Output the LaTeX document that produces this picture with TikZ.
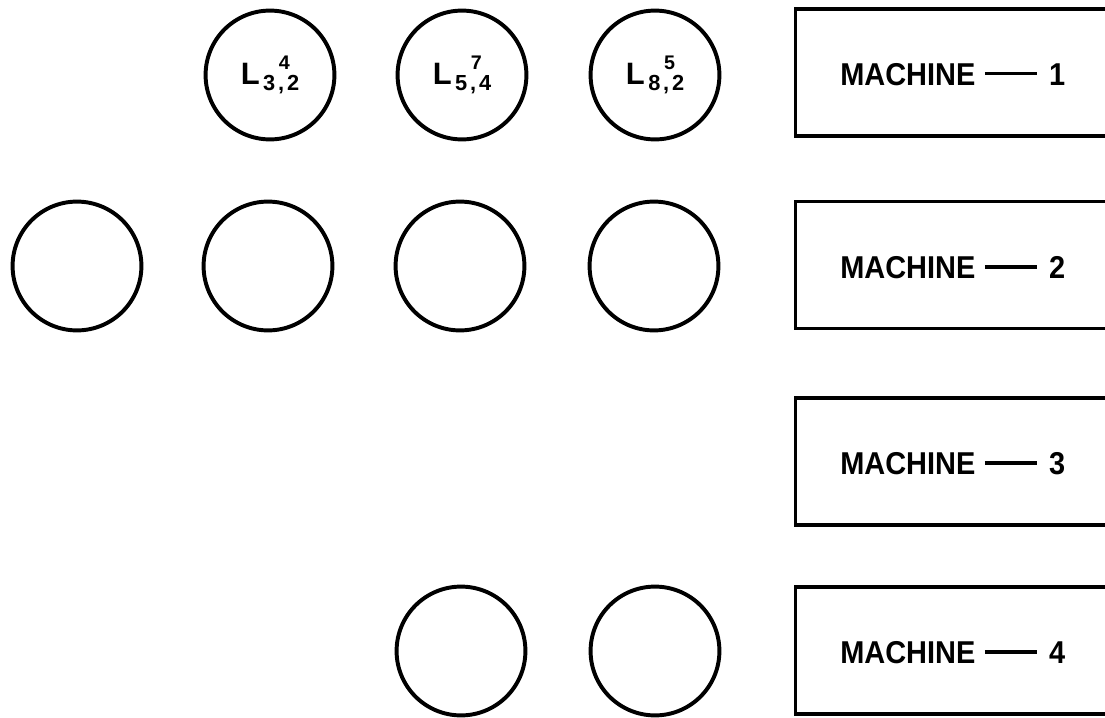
\documentclass[tikz,border=0pt]{standalone}
\usepackage{fontspec}
\setmainfont{Liberation Sans}
\newcommand\Lsub[3]{{\fontsize{22}{22}\selectfont L}\kern2.5pt\rlap{\kern11.2pt\raisebox{11pt}{\fontsize{14}{14}\selectfont #3}}\raisebox{-4.3pt}{\fontsize{15.5}{15.5}\selectfont #1\kern2pt,\kern2pt#2}}
\newcommand\Mach[1]{\fontsize{21}{25}\selectfont\scalebox{0.98}[1.07]{MACHINE\hspace{7pt}\rule[6.7pt]{37.5pt}{2.2pt}\hspace{9pt}#1}}
\tikzset{
  ring/.style={circle, draw, line width=2.8pt, minimum size=3.22cm, inner sep=0pt, font=\bfseries},
  machbox/.style={rectangle, draw, line width=2.2pt, minimum width=8.3cm, minimum height=3.175cm, inner sep=0pt},
  machtext/.style={anchor=west, inner sep=0pt, font=\bfseries}
}
\begin{document}
\begin{tikzpicture}[x=0.025cm, y=-0.025cm]
\useasboundingbox (0,0) rectangle (1105,717);
\clip (0,0) rectangle (1105,717);
% row 1
\node[ring] (c11) at (270,75) {\Lsub{3}{2}{4}};
\node[ring] (c12) at (462,75) {\Lsub{5}{4}{7}};
\node[ring] (c13) at (655,75) {\Lsub{8}{2}{5}};
% row 2
\node[ring] (c20) at (77,266) {};
\node[ring] (c21) at (268,266) {};
\node[ring] (c22) at (460,266) {};
\node[ring] (c23) at (654,266) {};
% row 4
\node[ring] (c41) at (461,651) {};
\node[ring] (c42) at (655,651) {};
% machine boxes (extend past the right edge)
\node[machbox, anchor=west] (m1) at (794,72.5) {};
\node[machbox, anchor=west] (m2) at (794,265) {};
\node[machbox, anchor=west] (m3) at (794,461.5) {};
\node[machbox, anchor=west] (m4) at (794,650.5) {};
\node[machtext] (t1) at (840,74.5) {\Mach{1}};
\node[machtext] (t2) at (840,268) {\Mach{2}};
\node[machtext] (t3) at (840,464) {\Mach{3}};
\node[machtext] (t4) at (840,653) {\Mach{4}};
\end{tikzpicture}
\end{document}
